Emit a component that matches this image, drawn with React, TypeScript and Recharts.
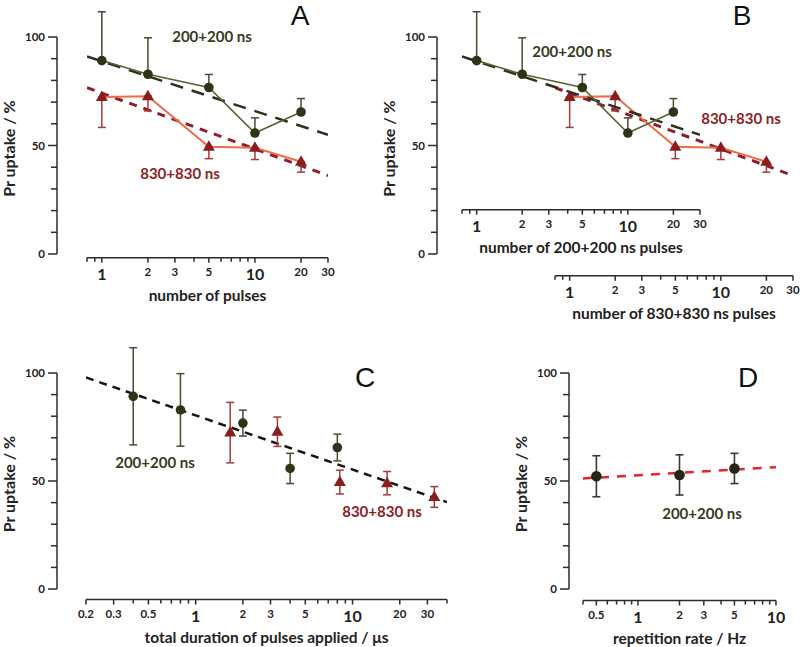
import React from "react";
import { ComposedChart, XAxis, YAxis, Line, Scatter, ErrorBar } from "recharts";

const FONT = "Lato, 'Open Sans', sans-serif";
const AXIS = "#2b2b2b";
const OLIVE = "#2d3519";
const OLIVE_LINE = "#56632f";
const OLIVE_ERR = "#4b4a33";
const RED = "#8c1d1d";
const RED_ERR = "#a23c3c";
const ORANGE = "#ef6b47";
const FIT_RED = "#8e1f2a";
const FIT_DARK = "#2c3020";
const FIT_BLACK = "#151515";
const FIT_BRIGHT = "#e2262b";
const LABEL_OLIVE = "#353b1c";
const LABEL_RED = "#8a1f24";

// measured values
const pulses = [1, 2, 5, 10, 20];
const uptake200 = [89, 82.7, 76.6, 55.6, 65.3];
const err200 = [22.5, 16.8, 6.0, 7.0, 6.2];
const uptake830 = [72.2, 72.6, 49.3, 48.8, 42.4];
const err830 = [14.0, 6.8, 5.5, 5.4, 4.8];

const duration200 = [0.4, 0.8, 2, 4, 8];
const duration830 = [1.66, 3.32, 8.3, 16.6, 33.2];

const rates = [0.5, 2, 5];
const uptakeRate = [52, 52.6, 55.6];
const errRate = [9.5, 9.3, 7];

// fitted trend lines (end points)
const fitPulses = [0.8, 30];
const fit200 = [90.9, 54.8];
const fit830 = [76.5, 36];
const fitDuration = [0.2, 40];
const fitAll = [97.7, 40];
const fitRates = [0.4, 10];
const fitRate = [51, 56.2];

// ticks
const yTicks = [0, 10, 20, 30, 40, 50, 60, 70, 80, 90, 100];
const yLabels = [0, 50, 100];
const pulseTicks = [0.8, 0.9, 1, 2, 3, 4, 5, 6, 7, 8, 9, 10, 20, 30];
const pulseLabels = [1, 2, 3, 5, 10, 20, 30];
const durationTicks = [0.2, 0.3, 0.4, 0.5, 0.6, 0.7, 0.8, 0.9, 1, 2, 3, 4, 5, 6, 7, 8, 9, 10, 20, 30, 40];
const durationLabels = [0.2, 0.3, 0.5, 1, 2, 3, 5, 10, 20, 30];
const rateTicks = [0.4, 0.5, 0.6, 0.7, 0.8, 0.9, 1, 2, 3, 4, 5, 6, 7, 8, 9, 10];
const rateLabels = [0.5, 1, 2, 3, 5, 10];
const bigLabels = [1, 10];

const rows = (xs: number[], ys: number[], errs?: any[]) =>
  xs.map((x, i) => ({ x, y: ys[i], err: errs ? errs[i] : 0 }));
const upper = (errs: number[]) => errs.map((e) => [0, e]);
const lower = (errs: number[]) => errs.map((e) => [e, 0]);

const CircleMark = (p: any) => <circle cx={p.cx} cy={p.cy} r={4.8} fill={OLIVE} />;
const BigCircleMark = (p: any) => <circle cx={p.cx} cy={p.cy} r={5.3} fill="#23261a" />;
const TriMark = (p: any) => (
  <polygon
    points={`${p.cx},${p.cy - 6.5} ${p.cx + 6},${p.cy + 4} ${p.cx - 6},${p.cy + 4}`}
    fill={RED}
  />
);

function XTick(props: any) {
  const { x, y, payload, labels } = props;
  const v = payload.value;
  const lab = labels.includes(v);
  const big = bigLabels.includes(v);
  return (
    <g>
      <line x1={x} y1={y} x2={x} y2={y + (lab ? 5 : 4)} stroke={AXIS} strokeWidth={1.5} />
      {lab && (
        <text
          x={x}
          y={y + (big ? 22 : 18.5)}
          textAnchor="middle"
          fontFamily={FONT}
          fontWeight={700}
          fontSize={big ? 16 : 11.5}
          fill="#222"
        >
          {String(v)}
        </text>
      )}
    </g>
  );
}

function YTick(props: any) {
  const { x, y, payload } = props;
  const v = payload.value;
  const lab = yLabels.includes(v);
  const len = lab ? 9 : 6;
  return (
    <g>
      <line x1={x - len} y1={y} x2={x} y2={y} stroke={AXIS} strokeWidth={1.5} />
      {lab && (
        <text x={x - 12} y={y + 4} textAnchor="end" fontFamily={FONT} fontWeight={700} fontSize={11.5} fill="#222">
          {v}
        </text>
      )}
    </g>
  );
}

function XTitle(props: any) {
  const vb = props.viewBox || { x: 0, y: 0, width: 0 };
  return (
    <text
      x={vb.x + vb.width / 2}
      y={vb.y + 43}
      textAnchor="middle"
      fontFamily={FONT}
      fontWeight={700}
      fontSize={15.5}
      fill="#222"
    >
      {props.text}
    </text>
  );
}

function YTitle(props: any) {
  const vb = props.viewBox || { x: 0, y: 0, height: 0 };
  const cx = vb.x + 15;
  const cy = vb.y + vb.height / 2 + 3;
  return (
    <text
      x={cx}
      y={cy}
      transform={`rotate(-90 ${cx} ${cy})`}
      textAnchor="middle"
      fontFamily={FONT}
      fontWeight={700}
      fontSize={16}
      fill="#222"
    >
      {props.text}
    </text>
  );
}

function YPanel({ axisX, y0, y100 }: { axisX: number; y0: number; y100: number }) {
  return (
    <div style={{ position: "absolute", left: axisX - 57, top: y100 - 15 }}>
      <ComposedChart
        width={70}
        height={y0 - y100 + 30}
        margin={{ top: 15, right: 0, bottom: 15, left: 0 }}
        data={yTicks.map((y) => ({ x: 0.5, y }))}
      >
        <XAxis type="number" dataKey="x" domain={[0, 1]} allowDataOverflow hide />
        <YAxis
          type="number"
          dataKey="y"
          domain={[0, 100]}
          allowDataOverflow
          ticks={yTicks}
          interval={0}
          width={57}
          tickSize={0}
          tickMargin={0}
          tickLine={false}
          axisLine={{ stroke: AXIS, strokeWidth: 1.5 }}
          tick={<YTick />}
          label={<YTitle text="Pr uptake / %" />}
        />
      </ComposedChart>
    </div>
  );
}

type PanelProps = {
  plotLeft: number;
  plotRight: number;
  y0: number;
  y100: number;
  axisY: number;
  xDomain: [number, number];
  xTicks: number[];
  xLabels: number[];
  title: string;
  children: React.ReactNode;
};

function DataPanel({ plotLeft, plotRight, y0, y100, axisY, xDomain, xTicks, xLabels, title, children }: PanelProps) {
  const k = (y0 - y100) / 100;
  const yMax = 116;
  const yMin = -(axisY - y0) / k;
  const top = y0 - yMax * k;
  const w = plotRight - plotLeft + 20;
  const h = axisY - top + 50;
  return (
    <div style={{ position: "absolute", left: plotLeft - 10, top }}>
      <ComposedChart width={w} height={h} margin={{ top: 0, right: 10, bottom: 0, left: 10 }}>
        <XAxis
          type="number"
          dataKey="x"
          scale="log"
          domain={xDomain}
          allowDataOverflow
          ticks={xTicks}
          interval={0}
          height={50}
          tickSize={0}
          tickMargin={0}
          tickLine={false}
          axisLine={{ stroke: AXIS, strokeWidth: 1.5 }}
          tick={<XTick labels={xLabels} />}
          label={<XTitle text={title} />}
        />
        <YAxis type="number" dataKey="y" domain={[yMin, yMax]} allowDataOverflow hide />
        {children}
      </ComposedChart>
    </div>
  );
}

function Note({ x, y, text, color, size = 15, weight = 700, family = FONT }: any) {
  return (
    <text x={x} y={y} textAnchor="middle" dominantBaseline="central" fontFamily={family} fontWeight={weight} fontSize={size} fill={color}>
      {text}
    </text>
  );
}

export default function App() {
  const fitLine = (xs: number[], ys: number[], color: string, dash: string, w: number) => (
    <Line
      data={rows(xs, ys)}
      dataKey="y"
      stroke={color}
      strokeWidth={w}
      strokeDasharray={dash}
      dot={false}
      activeDot={false}
      isAnimationActive={false}
    />
  );

  return (
    <div
      style={{
        position: "absolute",
        left: 0,
        top: 0,
        width: 800,
        height: 647,
        overflow: "hidden",
        background: "#fff",
        fontFamily: FONT,
      }}
    >
      {/* Panel A */}
      <YPanel axisX={57} y0={254} y100={37} />
      <DataPanel
        plotLeft={87}
        plotRight={328}
        y0={254}
        y100={37}
        axisY={258}
        xDomain={[0.8, 30]}
        xTicks={pulseTicks}
        xLabels={pulseLabels}
        title="number of pulses"
      >
        {fitLine(fitPulses, fit200, FIT_DARK, "13 9", 2.5)}
        {fitLine(fitPulses, fit830, FIT_RED, "8 7", 3)}
        <Line data={rows(pulses, uptake200)} dataKey="y" stroke={OLIVE_LINE} strokeWidth={1.6} dot={false} activeDot={false} isAnimationActive={false} />
        <Line data={rows(pulses, uptake830)} dataKey="y" stroke={ORANGE} strokeWidth={2} dot={false} activeDot={false} isAnimationActive={false} />
        <Scatter data={rows(pulses, uptake200, upper(err200))} shape={CircleMark} isAnimationActive={false}>
          <ErrorBar dataKey="err" direction="y" width={4} stroke={OLIVE_ERR} strokeWidth={1.5} isAnimationActive={false} />
        </Scatter>
        <Scatter data={rows(pulses, uptake830, lower(err830))} shape={TriMark} isAnimationActive={false}>
          <ErrorBar dataKey="err" direction="y" width={4} stroke={RED_ERR} strokeWidth={1.5} isAnimationActive={false} />
        </Scatter>
      </DataPanel>

      {/* Panel B */}
      <YPanel axisX={437} y0={254} y100={37} />
      <DataPanel
        plotLeft={555}
        plotRight={793}
        y0={254}
        y100={37}
        axisY={276}
        xDomain={[0.8, 30]}
        xTicks={pulseTicks}
        xLabels={pulseLabels}
        title="number of 830+830 ns pulses"
      >
        {fitLine(fitPulses, fit830, FIT_RED, "8 7", 3)}
        <Line data={rows(pulses, uptake830)} dataKey="y" stroke={ORANGE} strokeWidth={2} dot={false} activeDot={false} isAnimationActive={false} />
        <Scatter data={rows(pulses, uptake830, lower(err830))} shape={TriMark} isAnimationActive={false}>
          <ErrorBar dataKey="err" direction="y" width={4} stroke={RED_ERR} strokeWidth={1.5} isAnimationActive={false} />
        </Scatter>
      </DataPanel>
      <DataPanel
        plotLeft={462}
        plotRight={700}
        y0={254}
        y100={37}
        axisY={210}
        xDomain={[0.8, 30]}
        xTicks={pulseTicks}
        xLabels={pulseLabels}
        title="number of 200+200 ns pulses"
      >
        {fitLine(fitPulses, fit200, FIT_DARK, "13 9", 2.5)}
        <Line data={rows(pulses, uptake200)} dataKey="y" stroke={OLIVE_LINE} strokeWidth={1.6} dot={false} activeDot={false} isAnimationActive={false} />
        <Scatter data={rows(pulses, uptake200, upper(err200))} shape={CircleMark} isAnimationActive={false}>
          <ErrorBar dataKey="err" direction="y" width={4} stroke={OLIVE_ERR} strokeWidth={1.5} isAnimationActive={false} />
        </Scatter>
      </DataPanel>

      {/* Panel C */}
      <YPanel axisX={57} y0={589} y100={373} />
      <DataPanel
        plotLeft={86}
        plotRight={447}
        y0={589}
        y100={373}
        axisY={600}
        xDomain={[0.2, 40]}
        xTicks={durationTicks}
        xLabels={durationLabels}
        title="total duration of pulses applied / μs"
      >
        {fitLine(fitDuration, fitAll, FIT_BLACK, "8 6", 2.5)}
        <Scatter data={rows(duration200, uptake200, err200)} shape={CircleMark} isAnimationActive={false}>
          <ErrorBar dataKey="err" direction="y" width={4} stroke={OLIVE_ERR} strokeWidth={1.5} isAnimationActive={false} />
        </Scatter>
        <Scatter data={rows(duration830, uptake830, err830)} shape={TriMark} isAnimationActive={false}>
          <ErrorBar dataKey="err" direction="y" width={4} stroke={RED_ERR} strokeWidth={1.5} isAnimationActive={false} />
        </Scatter>
      </DataPanel>

      {/* Panel D */}
      <YPanel axisX={569} y0={589} y100={373} />
      <DataPanel
        plotLeft={583}
        plotRight={776}
        y0={589}
        y100={373}
        axisY={601}
        xDomain={[0.4, 10]}
        xTicks={rateTicks}
        xLabels={rateLabels}
        title="repetition rate / Hz"
      >
        {fitLine(fitRates, fitRate, FIT_BRIGHT, "9 8", 2.5)}
        <Scatter data={rows(rates, uptakeRate, errRate)} shape={BigCircleMark} isAnimationActive={false}>
          <ErrorBar dataKey="err" direction="y" width={4} stroke="#3a3a2c" strokeWidth={1.6} isAnimationActive={false} />
        </Scatter>
      </DataPanel>

      <svg width={800} height={647} style={{ position: "absolute", left: 0, top: 0, pointerEvents: "none" }}>
        <Note x={300} y={15} text="A" color="#111" size={28} weight={400} family="'Liberation Sans', Arial, sans-serif" />
        <Note x={742} y={15} text="B" color="#111" size={28} weight={400} family="'Liberation Sans', Arial, sans-serif" />
        <Note x={365} y={377} text="C" color="#111" size={28} weight={400} family="'Liberation Sans', Arial, sans-serif" />
        <Note x={748} y={377} text="D" color="#111" size={28} weight={400} family="'Liberation Sans', Arial, sans-serif" />
        <Note x={212} y={36} text="200+200 ns" color={LABEL_OLIVE} />
        <Note x={180} y={173} text="830+830 ns" color={LABEL_RED} />
        <Note x={572} y={51} text="200+200 ns" color={LABEL_OLIVE} />
        <Note x={741} y={118} text="830+830 ns" color={LABEL_RED} />
        <Note x={155} y={462} text="200+200 ns" color={LABEL_OLIVE} />
        <Note x={382} y={511} text="830+830 ns" color={LABEL_RED} />
        <Note x={702} y={513} text="200+200 ns" color={LABEL_OLIVE} />
      </svg>
    </div>
  );
}
